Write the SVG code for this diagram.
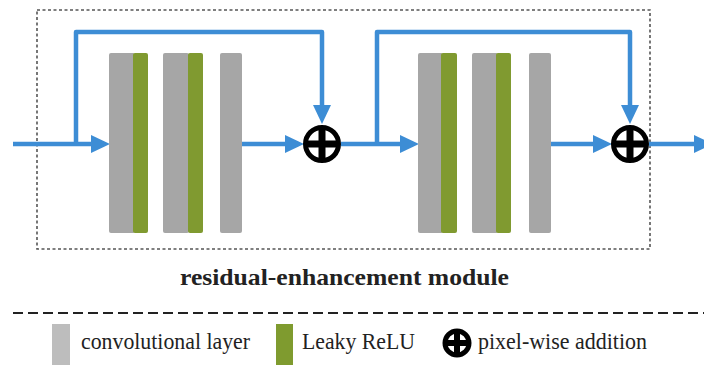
<svg xmlns="http://www.w3.org/2000/svg" width="704" height="365" viewBox="0 0 704 365">
<style>
.conv{fill:#A6A6A6}
.relu{fill:#809A30}
.wire{fill:none;stroke:#3D8DD5;stroke-width:4.5;stroke-linejoin:round}
.plus-ring{fill:#fff;stroke:#000;stroke-width:5}
.plus-bar{stroke:#000;stroke-width:7}
.t{font-family:"Liberation Serif","Times New Roman",serif;fill:#222}
</style>
<defs>
<marker id="ah" markerUnits="userSpaceOnUse" markerWidth="19" markerHeight="20" refX="0" refY="10" orient="auto">
<path d="M0,1 L19,10 L0,19 z" fill="#3D8DD5"/>
</marker>
<g id="addsym">
<circle r="16.5" class="plus-ring"/>
<line x1="-18" y1="0" x2="18" y2="0" class="plus-bar"/>
<line x1="0" y1="-18" x2="0" y2="18" class="plus-bar"/>
</g>
</defs>
<rect width="704" height="365" fill="#fff"/>
<rect id="module-box" x="37" y="10" width="613" height="239" fill="none" stroke="#555" stroke-width="1.6" stroke-dasharray="3,2.5"/>
<g id="connectors">
<path class="wire" d="M13,144 H91" marker-end="url(#ah)"/>
<path class="wire" d="M76,144 V32 H322 V105" marker-end="url(#ah)"/>
<path class="wire" d="M242,144 H285" marker-end="url(#ah)"/>
<path class="wire" d="M341,144 H400" marker-end="url(#ah)"/>
<path class="wire" d="M377,144 V32 H630 V105" marker-end="url(#ah)"/>
<path class="wire" d="M551,144 H593" marker-end="url(#ah)"/>
<path class="wire" d="M649,144 H694" marker-end="url(#ah)"/>
</g>
<g id="block1">
<rect class="conv" x="109" y="53" width="26" height="180" rx="2"/>
<rect class="relu" x="133" y="53" width="15" height="180" rx="2"/>
<rect class="conv" x="163" y="53" width="26" height="180" rx="2"/>
<rect class="relu" x="188" y="53" width="15" height="180" rx="2"/>
<rect class="conv" x="220" y="53" width="22" height="180" rx="2"/>
</g>
<g id="add1"><use href="#addsym" x="322" y="144"/></g>
<g id="block2">
<rect class="conv" x="418" y="53" width="25" height="180" rx="2"/>
<rect class="relu" x="441" y="53" width="16" height="180" rx="2"/>
<rect class="conv" x="472" y="53" width="26" height="180" rx="2"/>
<rect class="relu" x="496" y="53" width="15" height="180" rx="2"/>
<rect class="conv" x="529" y="53" width="22" height="180" rx="2"/>
</g>
<g id="add2"><use href="#addsym" x="630" y="144"/></g>
<g id="title">
<text class="t" x="344.5" y="285" text-anchor="middle" font-size="23" font-weight="bold" textLength="329" lengthAdjust="spacingAndGlyphs">residual-enhancement module</text>
</g>
<line x1="13" y1="313" x2="704" y2="313" stroke="#222" stroke-width="2" stroke-dasharray="10,5"/>
<g id="legend">
<rect x="52" y="324" width="18" height="41" fill="#BDBDBD"/>
<text class="t" x="81" y="349" font-size="22.5" textLength="169" lengthAdjust="spacingAndGlyphs">convolutional layer</text>
<rect x="276" y="324" width="17" height="41" fill="#7F9B2F"/>
<text class="t" x="302" y="349" font-size="22.5" textLength="113" lengthAdjust="spacingAndGlyphs">Leaky ReLU</text>
<circle cx="457" cy="343" r="12" fill="#fff" stroke="#000" stroke-width="5"/>
<line x1="443" y1="343" x2="471" y2="343" stroke="#000" stroke-width="6"/>
<line x1="457" y1="329" x2="457" y2="357" stroke="#000" stroke-width="6"/>
<text class="t" x="478" y="349" font-size="22.5" textLength="169" lengthAdjust="spacingAndGlyphs">pixel-wise addition</text>
</g>
</svg>
